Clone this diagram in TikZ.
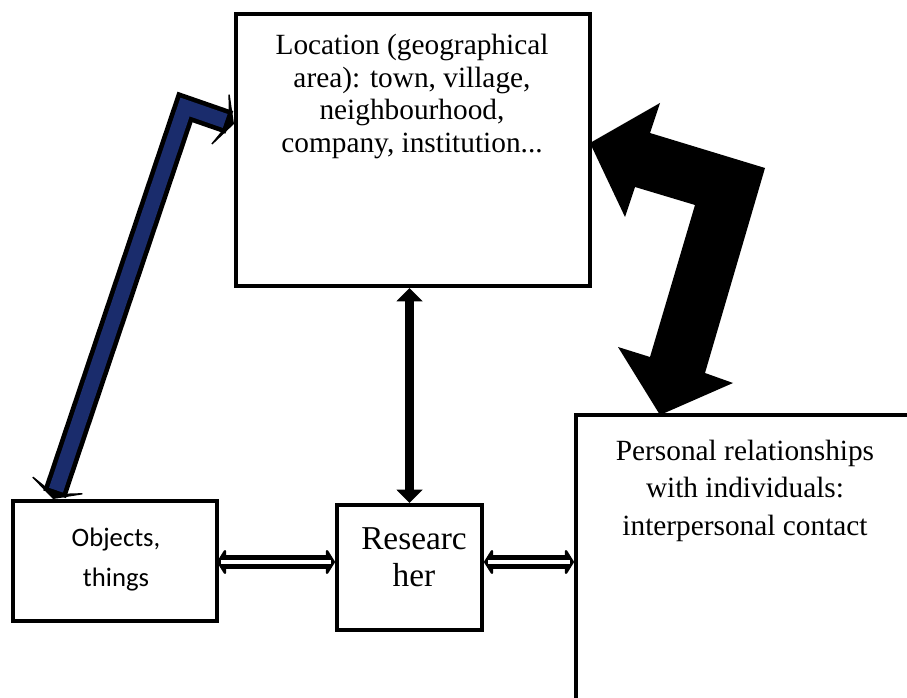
\documentclass[tikz,border=0pt]{standalone}
\usepackage{fontspec}
\setmainfont{Liberation Serif}
\newfontfamily\calibrifont{Carlito}
\usetikzlibrary{arrows.meta,calc}
\definecolor{navyfill}{RGB}{26,44,108}
\tikzset{
  boxnode/.style={draw=black, line width=3pt, fill=white, rectangle, inner sep=0pt},
  txtnode/.style={inner sep=0pt, align=center},
  vtip/.tip={Triangle[length=10pt,width=19pt]},
  dtip/.tip={Triangle[round,length=7pt,width=22pt]},
  btip/.tip={Stealth[length=14pt,width=54pt,inset=10pt]},
}
\begin{document}
\begin{tikzpicture}[x=0.75pt,y=-0.75pt]
\useasboundingbox (0,0) rectangle (907,698);
\clip (0,0) rectangle (907,698);
\fill[white] (0,0) rectangle (907,698);

% boxes
\node[boxnode, minimum width={354*0.75pt}, minimum height={272*0.75pt}] (loc) at (413,150) {};
\node[boxnode, minimum width={204*0.75pt}, minimum height={120*0.75pt}] (obj) at (115,561) {};
\node[boxnode, minimum width={145*0.75pt}, minimum height={125*0.75pt}] (res) at (409.5,567.5) {};
\node[boxnode, minimum width={344*0.75pt}, minimum height={300*0.75pt}] (per) at (748,565) {};

% texts
\node[txtnode, anchor=north, font=\fontsize{22}{24.5}\selectfont] (loctxt) at (412,34)
  {Location (geographical\\area): town, village,\\neighbourhood,\\company, institution...};
\node[txtnode, anchor=north, font=\fontsize{22}{28}\selectfont] (pertxt) at (745,440)
  {Personal relationships\\with individuals:\\interpersonal contact};
\node[txtnode, anchor=north, font=\fontsize{25}{28}\selectfont] (restxt) at (414,527)
  {Researc\\her};
\node[txtnode, anchor=north, font=\calibrifont\fontsize{20}{30}\selectfont] (objtxt) at (116,528)
  {Objects,\\things};

% vertical arrow
\draw[line width=6.5pt, {vtip}-{vtip}] (loc.south -| res.north) -- (res.north);

% double arrows
\coordinate (d1a) at (217,562);
\coordinate (d1b) at (d1a -| res.west);
\coordinate (d2a) at (d1a -| res.east);
\coordinate (d2b) at (d1a -| per.west);
\draw[line width=11pt, {dtip}-{dtip}] (d1a) -- (d1b);
\draw[white, line width=3.5pt, shorten <=3pt, shorten >=3pt] (d1a) -- (d1b);
\draw[line width=11pt, {dtip}-{dtip}] (d2a) -- (d2b);
\draw[white, line width=3.5pt, shorten <=3pt, shorten >=3pt] (d2a) -- (d2b);

% blue bent arrow
\coordinate (bA) at ($(obj.north west)+(42,0)$);
\coordinate (bC) at (185,107);
\coordinate (bB) at ($(loc.west)+(0,-26)$);
\draw[line width=18pt, line join=miter, {btip}-{btip}] (bA) -- (bC) -- (bB);
\draw[navyfill, line width=11pt, line join=miter, shorten <=7pt, shorten >=7pt] (bA) -- (bC) -- (bB);

% big black bent arrow
\fill[black] (590,143) -- (660,103) -- (650,133) -- (765,168) -- (705,373) -- (733,383)
  -- (660,415) -- (618,347) -- (650,357) -- (695,205) -- (635,187) -- (625,217) -- cycle;
\end{tikzpicture}
\end{document}
